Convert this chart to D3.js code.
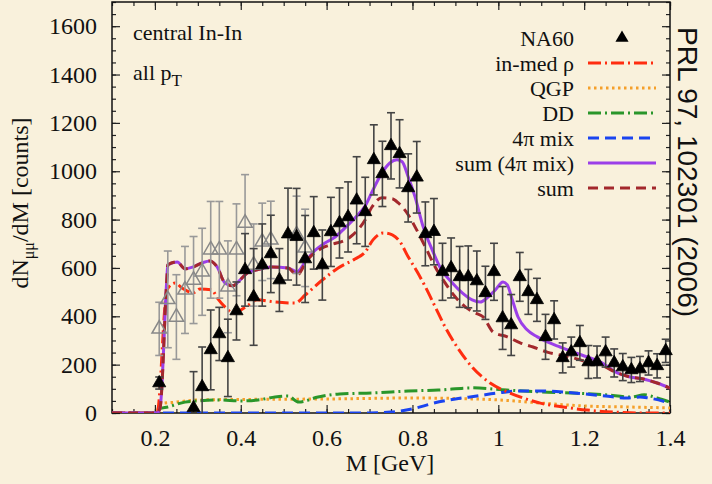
<!DOCTYPE html>
<html><head><meta charset="utf-8">
<script src="https://cdn.jsdelivr.net/npm/d3@7"></script>
<style>body{margin:0;background:#f9f1dc;} svg{display:block}</style>
</head><body>
<svg id="c" width="712" height="484"></svg>
<script>
// ---------- DATA ----------
// NA60 filled triangles: mass, value, error
const na60M = [0.21,0.29,0.31,0.33,0.35,0.37,0.39,0.41,0.43,0.45,0.47,0.49,0.51,0.53,0.55,0.57,0.59,0.61,0.63,0.65,0.67,0.69,0.71,0.73,0.75,0.77,0.79,0.81,0.83,0.85,0.87,0.89,0.91,0.93,0.95,0.97,0.99,1.01,1.03,1.05,1.07,1.09,1.11,1.13,1.15,1.17,1.19,1.21,1.23,1.25,1.27,1.29,1.31,1.33,1.35,1.37,1.39];
const na60V = [124,21,108,261,327,228,422,592,480,612,658,550,740,729,637,745,612,749,786,811,880,832,1047,989,1105,1072,931,975,741,750,584,600,563,563,546,497,584,393,364,563,501,468,315,385,228,252,290,211,211,252,207,190,178,182,207,195,257];
const na60E = [25,150,165,165,110,160,120,150,200,170,160,130,190,200,180,150,145,143,145,145,180,143,145,135,137,141,141,148,132,137,118,124,126,128,124,110,118,130,126,101,93,89,93,79,62,62,72,68,66,62,58,56,52,52,50,50,48];
// open (gray) triangles at low mass
const openM = [0.21,0.23,0.25,0.27,0.29,0.31,0.33,0.35,0.37,0.39,0.41,0.43,0.45,0.47,0.53,0.55];
const openV = [348,470,397,509,550,584,675,675,522,675,786,612,708,716,737,683];
const openE = [110,200,175,180,180,180,200,200,190,190,200,170,160,160,160,160];

// curves
const rhoM = [0.1,0.2,0.205,0.228,0.247,0.263,0.289,0.305,0.333,0.345,0.363,0.382,0.415,0.438,0.48,0.527,0.55,0.59,0.627,0.666,0.69,0.708,0.732,0.753,0.771,0.79,0.811,0.83,0.853,0.876,0.904,0.941,0.981,1.021,1.058,1.098,1.151,1.207,1.268,1.33,1.4];
const rhoV = [0,0,0,509,538,517,497,513,509,476,439,414,443,468,459,455,488,550,600,637,666,716,745,737,708,646,584,522,439,356,273,186,124,87,62,41,25,12,4,0,0];

const qgpM = [0.1,0.2,0.205,0.21,0.25,0.3,0.4,0.6,0.8,0.9,1.0,1.1,1.2,1.3,1.4];
const qgpV = [0,0,0,38,45,54,56,58,62,60,54,41,29,25,21];

const ddM = [0.1,0.2,0.205,0.21,0.23,0.27,0.3,0.35,0.4,0.44,0.48,0.51,0.535,0.58,0.63,0.71,0.79,0.86,0.94,1.02,1.1,1.17,1.25,1.31,1.34,1.37,1.4];
const ddV = [0,0,0,17,25,45,50,54,50,54,66,70,45,66,79,83,91,95,104,95,87,83,75,66,75,62,45];

const mixM = [0.1,0.7,0.75,0.8,0.85,0.9,0.95,1.0,1.05,1.1,1.15,1.2,1.25,1.3,1.33,1.35,1.4];
const mixV = [0,0,4,17,41,58,70,83,91,91,87,79,70,62,66,62,41];

const sumMixM = [0.1,0.2,0.205,0.212,0.228,0.23,0.252,0.27,0.289,0.31,0.328,0.345,0.363,0.382,0.398,0.415,0.438,0.473,0.51,0.531,0.55,0.569,0.597,0.62,0.643,0.666,0.69,0.708,0.729,0.748,0.764,0.776,0.79,0.806,0.825,0.846,0.865,0.893,0.916,0.939,0.958,0.974,0.993,1.011,1.021,1.032,1.046,1.067,1.091,1.114,1.144,1.175,1.207,1.238,1.277,1.307,1.338,1.37,1.4];
const sumMixV = [0,0,0,21,563,613,625,596,604,621,629,604,538,526,550,579,592,604,600,584,625,666,704,728,766,807,857,923,993,1035,1047,1039,977,894,770,675,600,538,497,468,459,476,509,542,530,472,397,344,315,294,273,252,232,211,166,149,141,124,103];

const sumM = [0.1,0.2,0.205,0.212,0.228,0.23,0.252,0.27,0.289,0.31,0.328,0.345,0.363,0.382,0.398,0.415,0.438,0.473,0.51,0.531,0.555,0.59,0.608,0.655,0.69,0.706,0.729,0.753,0.767,0.79,0.806,0.83,0.853,0.876,0.9,0.923,0.946,0.965,0.988,1.021,1.051,1.081,1.114,1.144,1.175,1.207,1.238,1.277,1.307,1.338,1.37,1.4];
const sumV = [0,0,0,21,563,613,625,596,604,621,629,604,538,526,550,579,592,604,600,571,633,683,695,728,799,853,890,886,869,820,770,687,604,538,480,439,414,397,335,315,290,273,252,240,228,211,199,166,149,141,124,103];

const xTicks = [0.2,0.4,0.6,0.8,1,1.2,1.4];
const yTicks = [0,200,400,600,800,1000,1200,1400,1600];
const legendLabels = ["NA60","in-med ρ","QGP","DD","4π mix","sum (4π mix)","sum"];

// ---------- DRAW ----------
const W=712,H=484;
const svg=d3.select("#c");
svg.append("rect").attr("width",W).attr("height",H).attr("fill","#f9f1dc");
const L=112,R=670,T=2,B=413;
const x=d3.scaleLinear().domain([0.1,1.4]).range([L,R]);
const y=d3.scaleLinear().domain([0,1700]).range([B,T]);
const serif="'Liberation Serif','Times New Roman',serif";

svg.append("clipPath").attr("id","clip").append("rect").attr("x",L).attr("y",T).attr("width",R-L).attr("height",B-T);

function styleAxis(g){g.select(".domain").remove();g.selectAll("line").attr("stroke","#222").attr("stroke-width",1.2);g.selectAll("text").attr("font-family",serif).attr("font-size",24).attr("fill","#111");}
const minorX = d3.range(0.1,1.4001,0.05).map(v=>+v.toFixed(2));
const minorY = d3.range(0,1701,50);
// bottom
svg.append("g").attr("transform",`translate(0,${B})`).call(d3.axisBottom(x).tickValues(minorX).tickSize(-4).tickFormat("")).call(styleAxis);
svg.append("g").attr("transform",`translate(0,${B})`).call(d3.axisBottom(x).tickValues(xTicks).tickSize(-8).tickPadding(16).tickFormat(d=>String(d))).call(styleAxis);
// top
svg.append("g").attr("transform",`translate(0,${T})`).call(d3.axisTop(x).tickValues(minorX).tickSize(-4).tickFormat("")).call(styleAxis);
svg.append("g").attr("transform",`translate(0,${T})`).call(d3.axisTop(x).tickValues(xTicks).tickSize(-8).tickFormat("")).call(styleAxis);
// left
svg.append("g").attr("transform",`translate(${L},0)`).call(d3.axisLeft(y).tickValues(minorY).tickSize(-4).tickFormat("")).call(styleAxis);
svg.append("g").attr("transform",`translate(${L},0)`).call(d3.axisLeft(y).tickValues(yTicks).tickSize(-8).tickPadding(15).tickFormat(d=>String(d))).call(styleAxis);
// right
svg.append("g").attr("transform",`translate(${R},0)`).call(d3.axisRight(y).tickValues(minorY).tickSize(-4).tickFormat("")).call(styleAxis);
svg.append("g").attr("transform",`translate(${R},0)`).call(d3.axisRight(y).tickValues(yTicks).tickSize(-8).tickFormat("")).call(styleAxis);

// frame
svg.append("rect").attr("x",L).attr("y",T).attr("width",R-L).attr("height",B-T).attr("fill","none").attr("stroke","#111").attr("stroke-width",1.5);

// curves
const styles = {
  rho:{c:"#ff2d10",d:"13,4,2,4",w:3},
  qgp:{c:"#f5a02a",d:"2.5,3.5",w:3},
  dd:{c:"#2a962a",d:"13,4,2,4",w:3},
  mix:{c:"#1a44f0",d:"11,6",w:3},
  sumMix:{c:"#9b3fe8",d:null,w:3},
  sum:{c:"#a3282c",d:"10,6",w:3}
};
const line=d3.line().x(d=>x(d[0])).y(d=>y(d[1])).curve(d3.curveMonotoneX);
const cg=svg.append("g").attr("clip-path","url(#clip)");
function drawCurve(Ms,Vs,s){
  cg.append("path").datum(Ms.map((m,i)=>[m,Vs[i]])).attr("d",line).attr("fill","none")
    .attr("stroke",s.c).attr("stroke-width",s.w).attr("stroke-dasharray",s.d).attr("stroke-linejoin","round");
}
drawCurve(qgpM,qgpV,styles.qgp);
drawCurve(ddM,ddV,styles.dd);
drawCurve(mixM,mixV,styles.mix);
drawCurve(rhoM,rhoV,styles.rho);
drawCurve(sumMixM,sumMixV,styles.sumMix);
drawCurve(sumM,sumV,styles.sum);

// error bars & markers
function drawData(Ms,Vs,Es,col,filled){
  const g=svg.append("g");
  Ms.forEach((m,i)=>{
    const cx=x(m), top=y(Math.min(1700,Vs[i]+Es[i])), bot=y(Math.max(0,Vs[i]-Es[i]));
    g.append("line").attr("x1",cx).attr("x2",cx).attr("y1",top).attr("y2",bot).attr("stroke",col).attr("stroke-width",1.6);
    g.append("line").attr("x1",cx-4).attr("x2",cx+4).attr("y1",top).attr("y2",top).attr("stroke",col).attr("stroke-width",1.6);
    if(Vs[i]-Es[i]>0) g.append("line").attr("x1",cx-4).attr("x2",cx+4).attr("y1",bot).attr("y2",bot).attr("stroke",col).attr("stroke-width",1.6);
  });
  g.selectAll("path.m").data(Ms).enter().append("path")
    .attr("d",d3.symbol().type(d3.symbolTriangle).size(filled?75:90))
    .attr("transform",(d,i)=>`translate(${x(d)},${y(Vs[i])})`)
    .attr("fill",filled?"#000":"none").attr("stroke",filled?"#000":"#888").attr("stroke-width",filled?0.8:1.5);
}
drawData(openM,openV,openE,"#999",false);
drawData(na60M,na60V,na60E,"#444",true);

// in-plot text
svg.append("text").attr("x",133).attr("y",40).attr("font-family",serif).attr("font-size",22).attr("fill","#111").text("central In-In");
const t2=svg.append("text").attr("x",133).attr("y",80).attr("font-family",serif).attr("font-size",22).attr("fill","#111");
t2.append("tspan").text("all p");
t2.append("tspan").attr("dy",6).attr("font-size",17).text("T");

// legend
const lx=574, rows=[38,63,88,113,138,163,188];
const legKeys=[null,"rho","qgp","dd","mix","sumMix","sum"];
legendLabels.forEach((lab,i)=>{
  svg.append("text").attr("x",lx).attr("y",rows[i]+8).attr("text-anchor","end").attr("font-family",serif).attr("font-size",22).attr("fill","#111").text(lab);
  if(i===0){
    svg.append("path").attr("d",d3.symbol().type(d3.symbolTriangle).size(75)).attr("transform",`translate(622,${rows[i]})`).attr("fill","#000");
  } else {
    const s=styles[legKeys[i]];
    svg.append("line").attr("x1",588).attr("x2",656).attr("y1",rows[i]).attr("y2",rows[i]).attr("stroke",s.c).attr("stroke-width",s.w).attr("stroke-dasharray",s.d);
  }
});

// axis titles
svg.append("text").attr("x",390).attr("y",471).attr("text-anchor","middle").attr("font-family",serif).attr("font-size",24).attr("fill","#111").text("M [GeV]");
const yl=svg.append("text").attr("transform","translate(28,203) rotate(-90)").attr("text-anchor","middle").attr("font-family",serif).attr("font-size",24).attr("fill","#111");
yl.append("tspan").text("dN");
yl.append("tspan").attr("dy",6).attr("font-size",16).text("μμ");
yl.append("tspan").attr("dy",-6).text("/dM [counts]");

// reference text
svg.append("text").attr("transform","translate(678,27) rotate(90)").attr("font-family","'Liberation Sans',Arial,sans-serif").attr("font-size",28).attr("fill","#111").text("PRL 97, 102301 (2006)");
</script>
</body></html>
